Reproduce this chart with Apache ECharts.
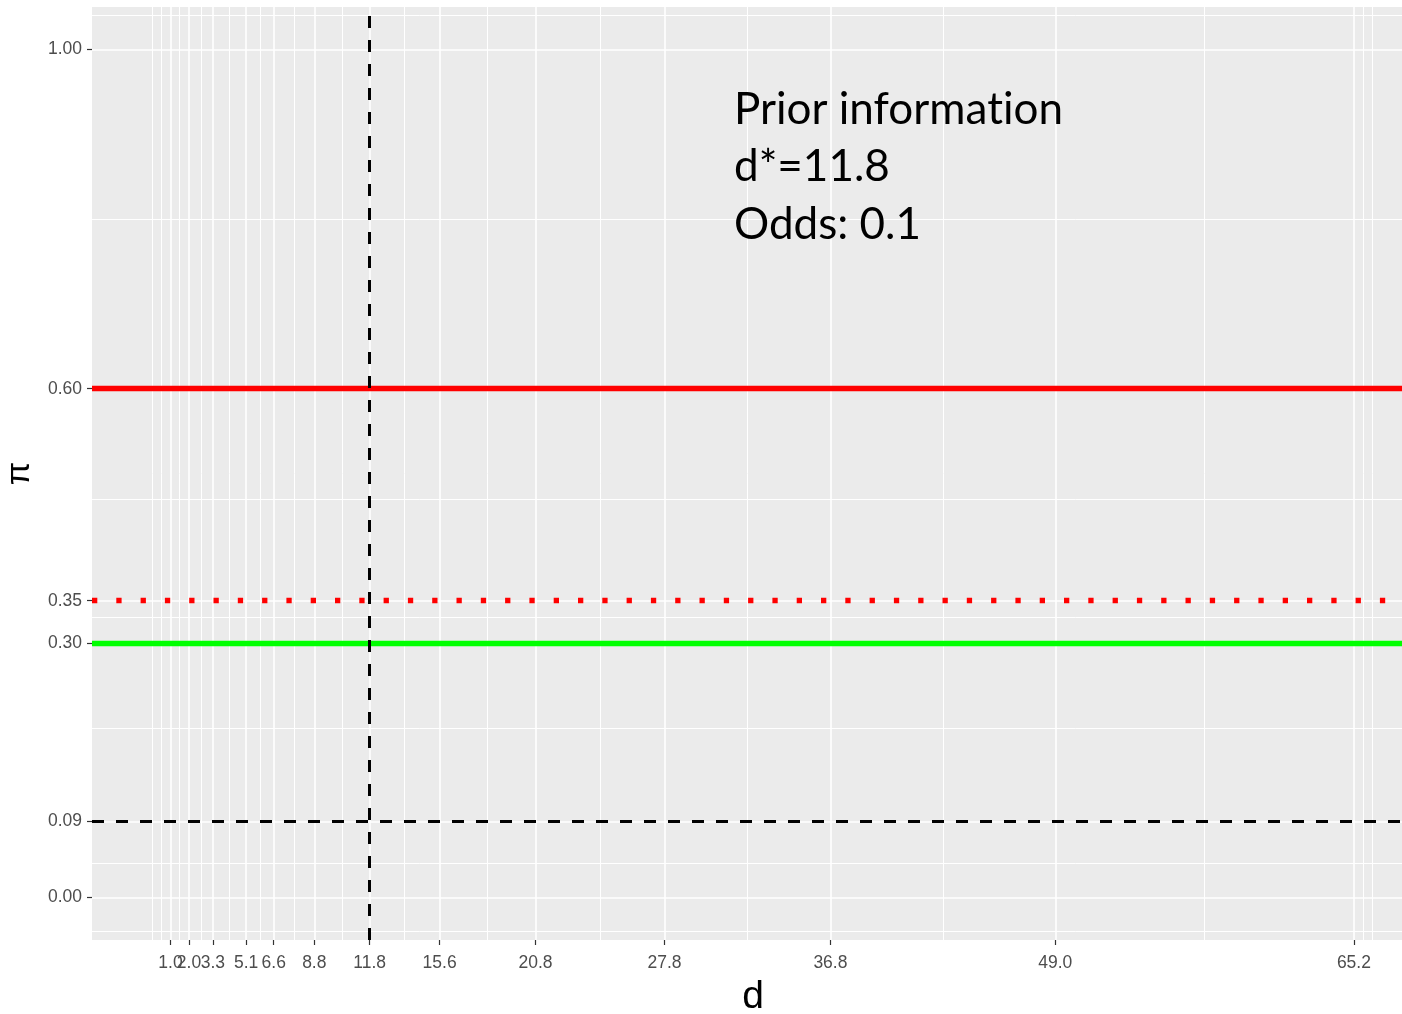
<!DOCTYPE html>
<html>
<head>
<meta charset="utf-8">
<script src="https://cdn.jsdelivr.net/npm/echarts@6/dist/echarts.min.js"></script>
<style>
  html, body { margin: 0; padding: 0; background: #ffffff; }
  #chart { width: 1402px; height: 1014px; }
</style>
</head>
<body>
<div id="chart"></div>
<script>
// Axis breaks (labelled ticks)
const xBreaks = [1.0, 2.0, 3.3, 5.1, 6.6, 8.8, 11.8, 15.6, 20.8, 27.8, 36.8, 49.0, 65.2];
const yBreaks = [0.00, 0.09, 0.30, 0.35, 0.60, 1.00];
// Minor grid positions (halfway between breaks, plus one step outside each end)
const xMinorBreaks = [0.0, 0.5, 1.5, 2.65, 4.2, 5.85, 7.7, 10.3, 13.7, 18.2, 24.3, 32.3, 42.9, 57.1, 65.7, 66.2];
const yMinorBreaks = [-0.045, 0.045, 0.195, 0.325, 0.475, 0.80, 1.045];
// Reference levels
const dStar = 11.8;
const piThreshold = 0.09;
const piRed = 0.60;
const piRedDotted = 0.35;
const piGreen = 0.30;
// Annotation lines
const noteLines = ['Prior information', 'd*=11.8', 'Odds: 0.1'];
// Axis limits
const xLimits = [-3.26, 68.46];
const yLimits = [-0.05, 1.05];

// Breaks are split over two overlaid x axes so crowded neighbours both keep their labels
const xBreaksA = xBreaks.filter((v, i) => i % 2 === 0);
const xBreaksB = xBreaks.filter((v, i) => i % 2 === 1);

const chart = echarts.init(document.getElementById('chart'), null, { renderer: 'canvas' });

const gridLines = [];
xMinorBreaks.forEach(v => gridLines.push({ xAxis: v, lineStyle: { width: 1 } }));
yMinorBreaks.forEach(v => gridLines.push({ yAxis: v, lineStyle: { width: 1 } }));
xBreaks.forEach(v => gridLines.push({ xAxis: v, lineStyle: { width: 1.6 } }));
yBreaks.forEach(v => gridLines.push({ yAxis: v, lineStyle: { width: 1.6 } }));

function refLine(name, axisKey, value, style, z) {
  return {
    name: name,
    type: 'line',
    data: [],
    z: z,
    markLine: {
      silent: true,
      symbol: ['none', 'none'],
      label: { show: false },
      emphasis: { disabled: true },
      lineStyle: style,
      data: [{ [axisKey]: value }]
    }
  };
}

// Each "ti" pair is written as two rich-text runs so the font draws plain letters, not a ligature
function noRichLigature(line) {
  return line.split('ti').map(part => '{n|' + part + '}').join('{n|t}{n|i}').replace(/\{n\|\}/g, '');
}

const labelFont = '"Liberation Sans", Arial, sans-serif';

function xAxisWithBreaks(values, withName) {
  return {
    type: 'value',
    position: 'bottom',
    min: xLimits[0], max: xLimits[1],
    name: withName ? 'd' : '',
    nameLocation: 'middle',
    nameGap: 38,
    nameTextStyle: { fontSize: 39, color: '#000000', fontFamily: labelFont },
    axisLine: { show: false, onZero: false },
    splitLine: { show: false },
    axisTick: { show: true, customValues: values, length: 5, lineStyle: { color: '#333333', width: 1.2 } },
    axisLabel: {
      customValues: values,
      formatter: v => v.toFixed(1),
      showMinLabel: true, showMaxLabel: true, hideOverlap: false,
      color: '#4D4D4D', fontSize: 17.5, fontFamily: labelFont, margin: 14
    }
  };
}

const option = {
  animation: false,
  backgroundColor: '#ffffff',
  grid: {
    left: 92, right: -12, top: 7, bottom: 74,
    outerBoundsMode: 'none',
    containLabel: false,
    show: true, backgroundColor: '#EBEBEB', borderWidth: 0
  },
  xAxis: [xAxisWithBreaks(xBreaksA, true), xAxisWithBreaks(xBreaksB, false)],
  yAxis: {
    type: 'value',
    min: yLimits[0], max: yLimits[1],
    name: 'π',
    nameLocation: 'middle',
    nameRotate: 90,
    nameGap: 42,
    nameTextStyle: { fontSize: 34, color: '#000000', fontFamily: labelFont },
    axisLine: { show: false, onZero: false },
    splitLine: { show: false },
    axisTick: { show: true, customValues: yBreaks, length: 5, lineStyle: { color: '#333333', width: 1.2 } },
    axisLabel: {
      customValues: yBreaks,
      formatter: v => v.toFixed(2),
      showMinLabel: true, showMaxLabel: true, hideOverlap: false,
      color: '#4D4D4D', fontSize: 17.5, fontFamily: labelFont, margin: 10
    }
  },
  series: [
    {
      name: 'grid',
      type: 'line',
      data: [],
      z: 1,
      markLine: {
        silent: true,
        symbol: ['none', 'none'],
        label: { show: false },
        emphasis: { disabled: true },
        lineStyle: { color: '#FFFFFF', type: 'solid', width: 1 },
        data: gridLines
      }
    },
    refLine('pi red', 'yAxis', piRed, { color: '#FF0000', type: 'solid', width: 5.3 }, 3),
    refLine('pi red dotted', 'yAxis', piRedDotted, { color: '#FF0000', type: [5.3, 19], cap: 'butt', width: 5.3 }, 4),
    refLine('pi green', 'yAxis', piGreen, { color: '#00FF00', type: 'solid', width: 5.3 }, 5),
    refLine('threshold', 'yAxis', piThreshold, { color: '#000000', type: [12, 12], cap: 'butt', width: 3 }, 6),
    refLine('d star', 'xAxis', dStar, { color: '#000000', type: [12, 12], cap: 'butt', width: 3 }, 7)
  ],
  graphic: [{
    type: 'text',
    left: 734,
    top: 81,
    z: 10,
    style: {
      text: noteLines.map(noRichLigature).join('\n'),
      fill: '#000000',
      font: '44px Lato, "Open Sans", sans-serif',
      lineHeight: 57.5,
      rich: {
        n: {
          fontSize: 44,
          fontFamily: 'Lato, "Open Sans", sans-serif',
          fill: '#000000',
          lineHeight: 57.5
        }
      }
    }
  }]
};

chart.setOption(option);
</script>
</body>
</html>
